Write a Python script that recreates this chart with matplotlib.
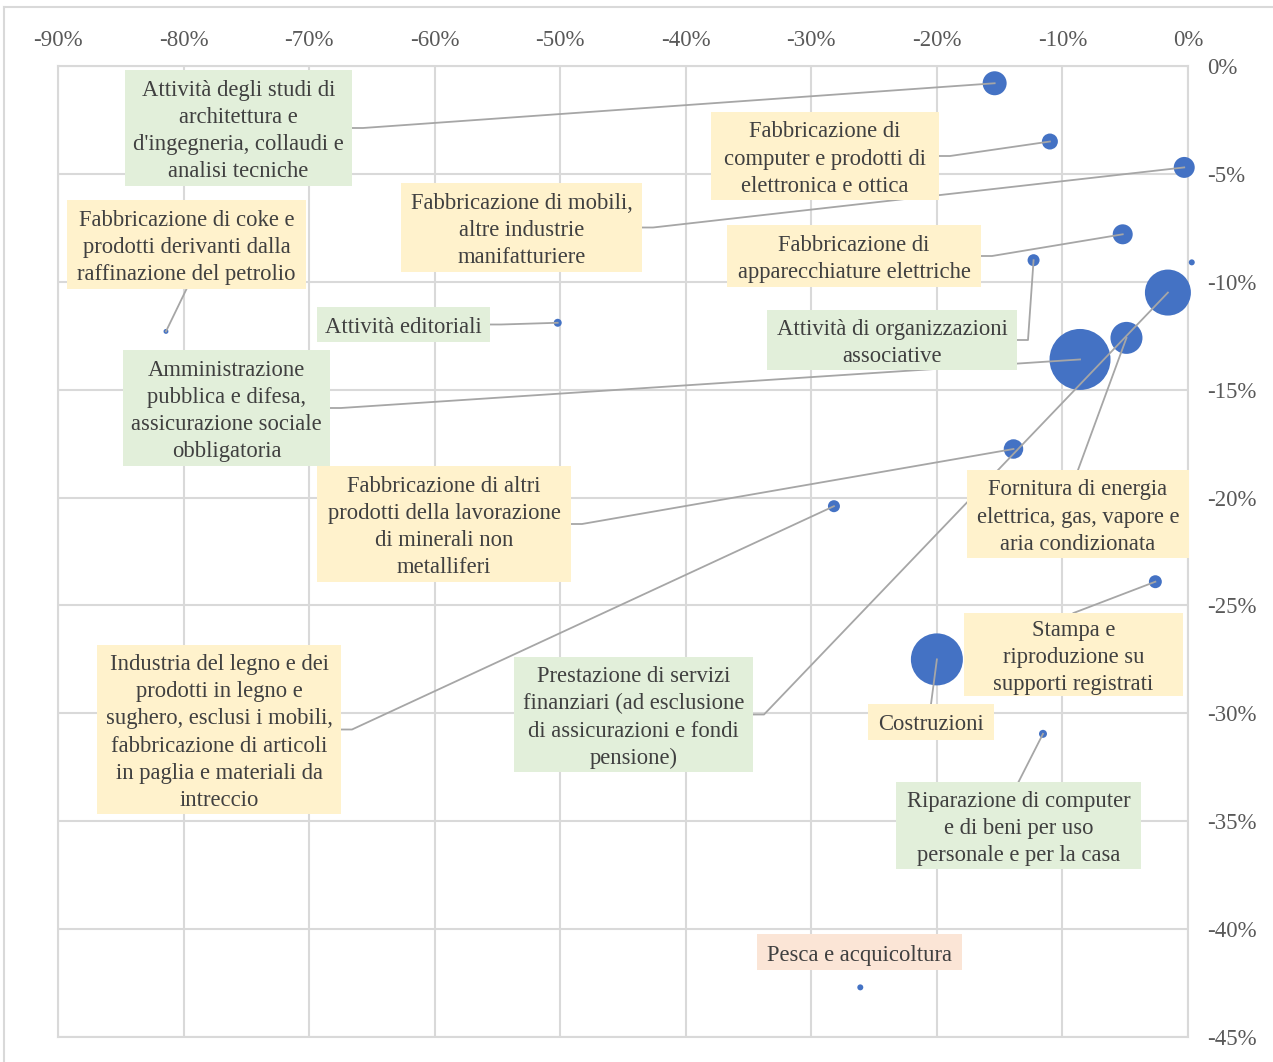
import matplotlib
matplotlib.use("Agg")
import matplotlib.pyplot as plt
from matplotlib.transforms import IdentityTransform
from matplotlib.patches import Rectangle
from matplotlib.lines import Line2D

# ---------------- data ----------------
sectors = [
    "Attività degli studi di\narchitettura e\nd'ingegneria, collaudi e\nanalisi tecniche",
    "Fabbricazione di\ncomputer e prodotti di\nelettronica e ottica",
    "Fabbricazione di mobili,\naltre industrie\nmanifatturiere",
    "Fabbricazione di coke e\nprodotti derivanti dalla\nraffinazione del petrolio",
    "Fabbricazione di\napparecchiature elettriche",
    "Attività editoriali",
    "Attività di organizzazioni\nassociative",
    "Amministrazione\npubblica e difesa,\nassicurazione sociale\nobbligatoria",
    "Fabbricazione di altri\nprodotti della lavorazione\ndi minerali non\nmetalliferi",
    "Fornitura di energia\nelettrica, gas, vapore e\naria condizionata",
    "Stampa e\nriproduzione su\nsupporti registrati",
    "Industria del legno e dei\nprodotti in legno e\nsughero, esclusi i mobili,\nfabbricazione di articoli\nin paglia e materiali da\nintreccio",
    "Prestazione di servizi\nfinanziari (ad esclusione\ndi assicurazioni e fondi\npensione)",
    "Costruzioni",
    "Riparazione di computer\ne di beni per uso\npersonale e per la casa",
    "Pesca e acquicoltura",
    "",
]
x_change = [-15.4, -11.0, -0.3, -81.4, -5.2, -50.2, -12.3, -8.6, -13.9, -4.9,
            -2.6, -28.2, -1.6, -20.0, -11.55, -26.1, 0.3]
y_change = [-0.8, -3.5, -4.7, -12.3, -7.8, -11.9, -9.0, -13.6, -17.75, -12.6,
            -23.9, -20.4, -10.5, -27.5, -30.95, -42.7, -9.1]
bubble_size = [144, 64, 110, 6, 100, 16, 36, 930, 95, 256, 42, 36, 529, 676, 16, 9, 9]

x_ticks = [-90, -80, -70, -60, -50, -40, -30, -20, -10, 0]
y_ticks = [0, -5, -10, -15, -20, -25, -30, -35, -40, -45]

# ---------------- layout (pixels) ----------------
GREEN, YELLOW, PINK = "#E2EFDA", "#FFF2CC", "#FBE5D6"
# box: (x0, x1, y0, y1) in image pixels from top-left; anchor side
label_layout = [
    ((125, 352, 70, 186), GREEN, "right"),
    ((711, 939, 112, 200), YELLOW, "right"),
    ((401, 642, 183, 272), YELLOW, "right"),
    ((67, 306, 200, 289), YELLOW, "bottom"),
    ((727, 981, 225, 287), YELLOW, "right"),
    ((317, 490, 307, 342), GREEN, "right"),
    ((767, 1017, 310, 370), GREEN, "right"),
    ((123, 330, 350, 466), GREEN, "right"),
    ((317, 571, 466, 582), YELLOW, "right"),
    ((967, 1189, 470, 558), YELLOW, "top"),
    ((964, 1183, 613, 696), YELLOW, "top"),
    ((97, 341, 645, 814), YELLOW, "right"),
    ((514, 753, 657, 772), GREEN, "right"),
    ((868, 994, 704, 740), YELLOW, "top"),
    ((896, 1141, 782, 869), GREEN, "top"),
    ((757, 962, 934, 970), PINK, None),
    (None, None, None),
]

W, H = 1273, 1062
FONT = "Liberation Serif"
plt.rcParams["font.family"] = [FONT, "DejaVu Serif"]

fig = plt.figure(figsize=(W / 100, H / 100), dpi=100)
ax = fig.add_axes([58 / W, 25 / H, 1130 / W, 971 / H])

ax.set_xlim(-90, 0)
ax.set_ylim(-45, 0)
ax.set_xticks(x_ticks)
ax.set_xticklabels([f"{v}%" for v in x_ticks])
ax.set_yticks(y_ticks)
ax.set_yticklabels([f"{v}%" for v in y_ticks])
ax.xaxis.tick_top()
ax.yaxis.tick_right()
ax.tick_params(axis="x", length=0, pad=11, labelsize=16.5, colors="#595959")
ax.tick_params(axis="y", length=0, pad=14, labelsize=16.5, colors="#595959")
ax.grid(True, color="#D9D9D9", lw=1.5, zorder=0)
ax.set_axisbelow(True)
for s in ax.spines.values():
    s.set_color("#D9D9D9")
    s.set_linewidth(1.5)

ax.scatter(x_change, y_change, s=[v * 2.0736 for v in bubble_size],
           c="#4472C4", linewidths=0, zorder=3, clip_on=False)

fig.canvas.draw()
ident = IdentityTransform()

for i, (label, lay) in enumerate(zip(sectors, label_layout)):
    box, color, anchor = lay
    if box is None:
        continue
    x0, x1, y0, y1 = box
    rect = Rectangle((x0, H - y1), x1 - x0, y1 - y0, transform=ident,
                     facecolor=color, edgecolor="none", zorder=3)
    fig.add_artist(rect)
    cx, cy = (x0 + x1) / 2, (y0 + y1) / 2
    fig.text(cx / W, 1 - (cy + 3) / H, label, ha="center", va="center",
             multialignment="center", fontsize=16.3, color="#404040",
             linespacing=1.38, zorder=4)
    if anchor is None:
        continue
    px, py = ax.transData.transform((x_change[i], y_change[i]))
    if anchor == "right":
        xs = [x1, x1 + 11, px]
        ys = [H - cy, H - cy, py]
    elif anchor == "top":
        xs = [cx, px]
        ys = [H - y0, py]
    else:  # bottom
        xs = [cx, px]
        ys = [H - y1, py]
    fig.add_artist(Line2D(xs, ys, transform=ident, color="#A6A6A6",
                          lw=1.3, zorder=2))

# outer chart-area border
fig.add_artist(Line2D([4, W], [H - 7, H - 7], transform=ident, color="#D9D9D9", lw=1.5))
fig.add_artist(Line2D([4, 4], [0, H - 7], transform=ident, color="#D9D9D9", lw=1.5))

fig.savefig("out.png", dpi=100)
